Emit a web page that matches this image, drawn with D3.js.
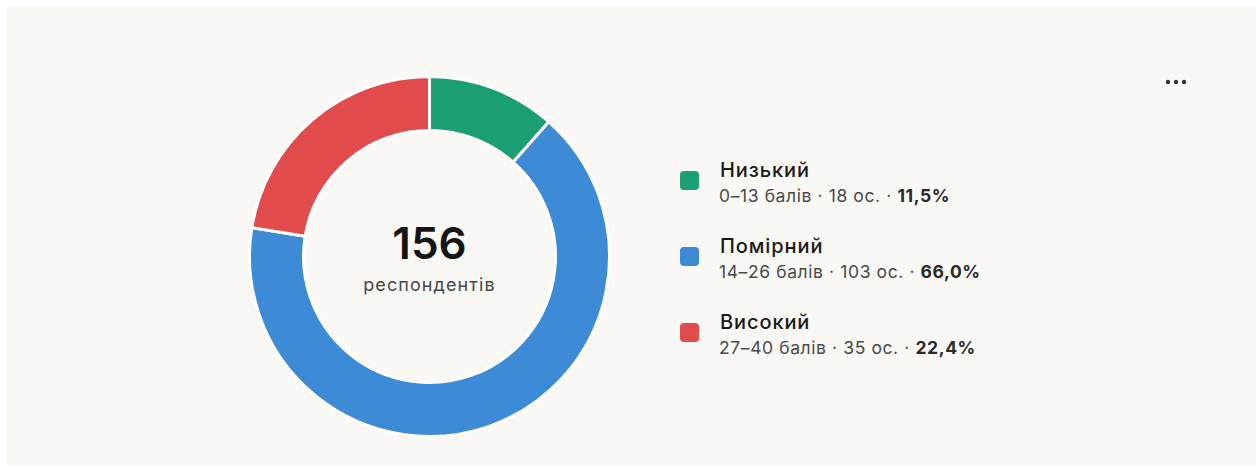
<!DOCTYPE html>
<html>
<head>
<meta charset="utf-8">
<script src="https://cdn.jsdelivr.net/npm/d3@7"></script>
<style>
  html, body { margin: 0; padding: 0; background: #ffffff; }
  svg { display: block; font-family: Inter, "Noto Sans", sans-serif; }
</style>
</head>
<body>
<svg id="chart" width="1258" height="468"></svg>
<script>
// Data
const categories = ['Низький', 'Помірний', 'Високий'];
const ranges = ['0–13 балів', '14–26 балів', '27–40 балів'];
const counts = [18, 103, 35];
const percents = ['11,5%', '66,0%', '22,4%'];
const colors = ['#1c9e75', '#3d8bd6', '#e24b4b'];
const totalLabel = 'респондентів';

const svg = d3.select('#chart');

// card background
svg.append('rect')
  .attr('x', 7).attr('y', 7)
  .attr('width', 1249).attr('height', 459)
  .attr('fill', '#f9f8f5');

// donut
const cx = 429.5, cy = 256.5;
const outerR = 180, innerR = 126;

const pie = d3.pie().sort(null).value(d => d)(counts);
const arc = d3.arc().innerRadius(innerR).outerRadius(outerR);

const g = svg.append('g').attr('transform', `translate(${cx},${cy})`);
g.selectAll('path')
  .data(pie)
  .join('path')
  .attr('d', arc)
  .attr('fill', (d, i) => colors[i])
  .attr('stroke', '#ffffff')
  .attr('stroke-width', 3)
  .attr('stroke-linejoin', 'round');

const total = d3.sum(counts);
g.append('text')
  .attr('text-anchor', 'middle')
  .attr('y', 2)
  .attr('font-size', 44)
  .attr('font-weight', 600)
  .attr('fill', '#151515')
  .text(total);
g.append('text')
  .attr('text-anchor', 'middle')
  .attr('y', 34)
  .attr('font-size', 18)
  .attr('letter-spacing', 1.1)
  .attr('fill', '#474747')
  .text(totalLabel);

// legend
const legend = svg.append('g').attr('transform', 'translate(680,171)');
const row = legend.selectAll('g')
  .data(categories)
  .join('g')
  .attr('transform', (d, i) => `translate(0,${i * 76})`);

row.append('rect')
  .attr('width', 19).attr('height', 19)
  .attr('rx', 4)
  .attr('fill', (d, i) => colors[i]);

row.append('text')
  .attr('x', 40).attr('y', 6)
  .attr('font-size', 20)
  .attr('font-weight', 500)
  .attr('letter-spacing', 0.9)
  .attr('fill', '#1a1a1a')
  .text(d => d);

const sub = row.append('text')
  .attr('x', 39).attr('y', 31)
  .attr('font-size', 17.5)
  .attr('letter-spacing', 0.6)
  .attr('fill', '#4a4a4a');
sub.append('tspan').text((d, i) => `${ranges[i]} · ${counts[i]} ос. · `);
sub.append('tspan')
  .attr('font-weight', 700)
  .attr('fill', '#2a2a2a')
  .text((d, i) => percents[i]);

// menu dots
svg.append('g').selectAll('circle')
  .data([0, 1, 2])
  .join('circle')
  .attr('cx', d => 1168 + d * 8)
  .attr('cy', 82)
  .attr('r', 2.2)
  .attr('fill', '#333333');
</script>
</body>
</html>
